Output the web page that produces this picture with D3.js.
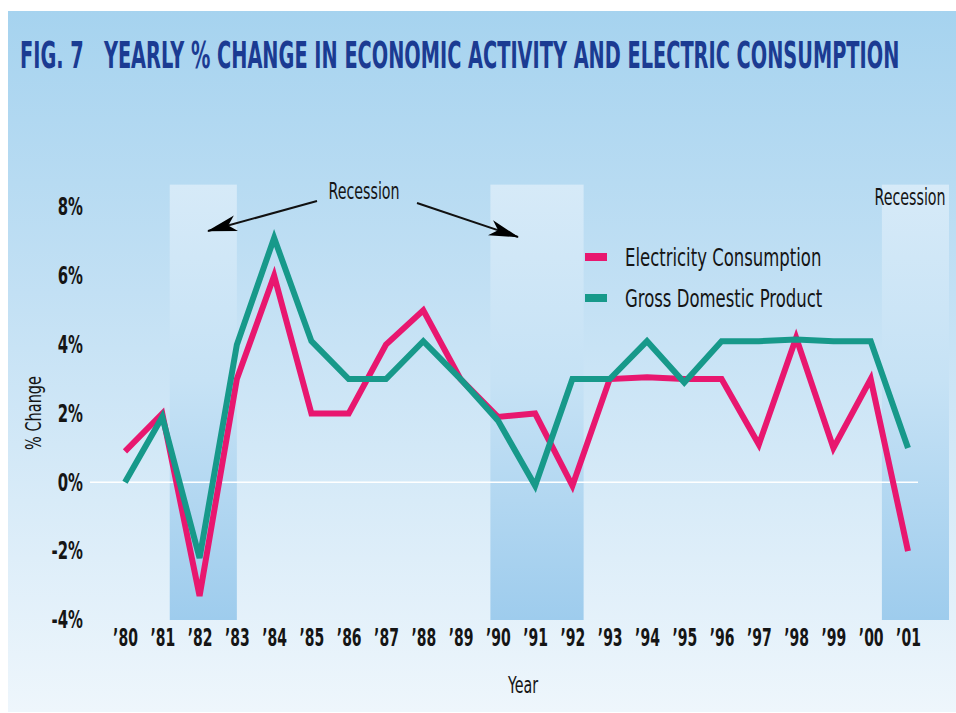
<!DOCTYPE html>
<html>
<head>
<meta charset="utf-8">
<script src="https://cdn.jsdelivr.net/npm/d3@7"></script>
<style>
  html, body { margin: 0; padding: 0; background: #fff; }
  svg { display: block; }
  text { font-family: "DejaVu Sans", "Liberation Sans", sans-serif; }
</style>
</head>
<body>
<script>
'use strict'

const years = d3.range(1980, 2002);
const yearLabels = years.map(y => '\u2019' + String(y).slice(2));
const electricity = [0.9, 2.0, -3.3, 3.0, 6.0, 2.0, 2.0, 4.0, 5.0, 3.0, 1.9, 2.0, -0.1, 3.0, 3.05, 3.0, 3.0, 1.1, 4.2, 1.0, 3.0, -2.0];
const gdp = [0.0, 1.9, -2.2, 4.0, 7.1, 4.1, 3.0, 3.0, 4.1, 3.0, 1.8, -0.1, 3.0, 3.0, 4.1, 2.9, 4.1, 4.1, 4.15, 4.1, 4.1, 1.0];
const yTicks = [-4, -2, 0, 2, 4, 6, 8];
const recessions = [[1981.2, 1983.0], [1989.8, 1992.3], [2000.3, 2002.1]];
const seriesNames = ['Electricity Consumption', 'Gross Domestic Product'];
const seriesColors = ['#e8176f', '#17998a'];

const width = 956, height = 713;

const svg = d3.select('body').append('svg')
  .attr('width', width)
  .attr('height', height);

// squeeze a text horizontally, keeping its anchor point
const squeeze = function(sel, s){
  sel.each(function(){
    const t = d3.select(this);
    const tx = +t.attr('x') || 0, ty = +t.attr('y') || 0;
    t.attr('transform', (t.attr('transform') || '') +
      ' translate(' + tx + ',' + ty + ') scale(' + s + ',1) translate(' + (-tx) + ',' + (-ty) + ')');
  })
}
const fitWidth = function(sel, w){
  sel.each(function(){
    d3.select(this).call(squeeze, w / this.getComputedTextLength());
  })
}

const defs = svg.append('defs');
const bg = defs.append('linearGradient').attr('id', 'bg')
  .attr('x1', 0).attr('y1', 0).attr('x2', 0).attr('y2', 1);
bg.append('stop').attr('offset', '0%').attr('stop-color', '#a6d3ef');
bg.append('stop').attr('offset', '40%').attr('stop-color', '#c2e0f4');
bg.append('stop').attr('offset', '100%').attr('stop-color', '#eef6fc');

const band = defs.append('linearGradient').attr('id', 'band')
  .attr('x1', 0).attr('y1', 0).attr('x2', 0).attr('y2', 1);
band.append('stop').attr('offset', '0%').attr('stop-color', '#d6eaf8');
band.append('stop').attr('offset', '45%').attr('stop-color', '#c6e2f5');
band.append('stop').attr('offset', '100%').attr('stop-color', '#9ecced');

defs.append('marker').attr('id', 'arrow')
  .attr('viewBox', '0 0 30 20').attr('refX', 29).attr('refY', 10)
  .attr('markerWidth', 30).attr('markerHeight', 20)
  .attr('markerUnits', 'userSpaceOnUse')
  .attr('orient', 'auto')
  .append('path').attr('d', 'M0,2 L30,10 L0,18 L8,10 Z').attr('fill', '#000');

svg.append('rect')
  .attr('x', 8).attr('y', 11)
  .attr('width', width - 8).attr('height', height - 12)
  .attr('fill', 'url(#bg)');

svg.append('text')
  .attr('x', 20).attr('y', 68)
  .attr('font-size', 38).attr('font-weight', 'bold')
  .attr('fill', '#1b3b92')
  .text('FIG. 7\u00a0\u00a0 YEARLY % CHANGE IN ECONOMIC ACTIVITY AND ELECTRIC CONSUMPTION')
  .call(fitWidth, 880);

const x = d3.scaleLinear().domain([1980, 2001]).range([125, 908]);
const y = d3.scaleLinear().domain([-4, 8]).range([620, 207]);

// recession bands
svg.append('g').selectAll('rect')
  .data(recessions)
  .enter().append('rect')
  .attr('x', d => x(d[0]))
  .attr('width', d => x(d[1]) - x(d[0]))
  .attr('y', y(8.65))
  .attr('height', y(-4) - y(8.65))
  .attr('fill', 'url(#band)');

// zero line
svg.append('line')
  .attr('x1', 90).attr('x2', 918)
  .attr('y1', y(0)).attr('y2', y(0))
  .attr('stroke', '#ffffff').attr('stroke-width', 1.5);

// y axis
const yAxis = svg.append('g')
  .attr('transform', 'translate(83,0)')
  .call(d3.axisLeft(y).tickValues(yTicks).tickSize(0).tickPadding(0).tickFormat(d => d + '%'));
yAxis.select('.domain').remove();
yAxis.selectAll('text')
  .attr('font-size', 24).attr('font-weight', 'bold').attr('fill', '#151515')
  .style('font-family', '"DejaVu Sans", sans-serif')
  .call(squeeze, 0.62);

// x axis
const xAxis = svg.append('g')
  .attr('transform', 'translate(0,' + 628 + ')')
  .call(d3.axisBottom(x).tickValues(years).tickSize(0).tickPadding(0)
    .tickFormat((d, i) => yearLabels[i]));
xAxis.select('.domain').remove();
xAxis.selectAll('text')
  .attr('font-size', 25).attr('font-weight', 'bold').attr('fill', '#151515')
  .style('font-family', '"DejaVu Sans", sans-serif')
  .call(squeeze, 0.56);

svg.append('text')
  .attr('x', 523).attr('y', 693)
  .attr('text-anchor', 'middle')
  .attr('font-size', 23).attr('fill', '#151515')
  .text('Year')
  .call(squeeze, 0.62);

svg.append('text')
  .attr('transform', 'translate(41,' + 413 + ') rotate(-90)')
  .attr('text-anchor', 'middle')
  .attr('font-size', 22).attr('fill', '#151515')
  .text('% Change')
  .call(squeeze, 0.66);

// lines
const line = d3.line()
  .x((d, i) => x(years[i]))
  .y(d => y(d));

svg.append('g').selectAll('path')
  .data([electricity, gdp])
  .enter().append('path')
  .attr('d', d => line(d))
  .attr('fill', 'none')
  .attr('stroke', (d, i) => seriesColors[i])
  .attr('stroke-width', 6)
  .attr('stroke-linejoin', 'miter');

// recession annotation
svg.append('text')
  .attr('x', 364).attr('y', 199)
  .attr('text-anchor', 'middle')
  .attr('font-size', 23).attr('fill', '#151515')
  .text('Recession')
  .call(squeeze, 0.62);

svg.append('line')
  .attr('x1', 317).attr('y1', 201).attr('x2', 208).attr('y2', 231)
  .attr('stroke', '#111').attr('stroke-width', 2)
  .attr('marker-end', 'url(#arrow)');
svg.append('line')
  .attr('x1', 417).attr('y1', 203).attr('x2', 518).attr('y2', 237)
  .attr('stroke', '#111').attr('stroke-width', 2)
  .attr('marker-end', 'url(#arrow)');

svg.append('text')
  .attr('x', 910).attr('y', 205)
  .attr('text-anchor', 'middle')
  .attr('font-size', 23).attr('fill', '#151515')
  .text('Recession')
  .call(squeeze, 0.62);

// legend
const legend = svg.append('g').selectAll('g')
  .data(seriesNames)
  .enter().append('g')
  .attr('transform', (d, i) => 'translate(585,' + (257 + i * 41) + ')');
legend.append('rect')
  .attr('x', 0).attr('y', -4)
  .attr('width', 22).attr('height', 8)
  .attr('fill', (d, i) => seriesColors[i]);
legend.append('text')
  .attr('x', 40).attr('y', 9)
  .attr('font-size', 25).attr('fill', '#151515')
  .text(d => d)
  .call(squeeze, 0.66);
</script>
</body>
</html>
